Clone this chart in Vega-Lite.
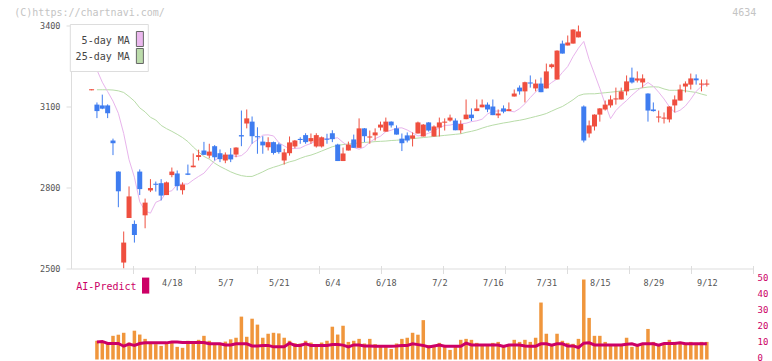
{
"$schema":"https://vega.github.io/schema/vega-lite/v6.json",
"autosize":{"type":"pad"},
"padding":{"left":14,"top":7.5,"right":0,"bottom":0},
"background":"white",
"spacing":11,
"bounds":"flush",
"config":{"view":{"stroke":null},"axis":{"labelFont":"DejaVu Sans Mono","labelFontSize":8.5,"labelColor":"#555","domainColor":"#dddddd","tickColor":"#dddddd","grid":false}},
"datasets":{
"candles":[
{"i":0,"o":3160,"h":3164,"l":3160,"c":3164},{"i":1,"o":3107,"h":3115,"l":3057,"c":3083},{"i":2,"o":3104,"h":3144,"l":3090,"c":3092},{"i":3,"o":3104,"h":3108,"l":3057,"c":3075},{"i":4,"o":2974,"h":2981,"l":2920,"c":2964},{"i":5,"o":2859,"h":2860,"l":2727,"c":2786},{"i":6,"o":2522,"h":2637,"l":2501,"c":2596},{"i":7,"o":2687,"h":2804,"l":2687,"c":2767},{"i":8,"o":2665,"h":2678,"l":2596,"c":2624},{"i":9,"o":2859,"h":2867,"l":2772,"c":2794},
{"i":10,"o":2697,"h":2759,"l":2649,"c":2744},{"i":11,"o":2789,"h":2831,"l":2783,"c":2798},{"i":12,"o":2814,"h":2822,"l":2785,"c":2810},{"i":13,"o":2816,"h":2831,"l":2752,"c":2770},{"i":14,"o":2772,"h":2822,"l":2772,"c":2819},{"i":15,"o":2846,"h":2874,"l":2838,"c":2859},{"i":16,"o":2852,"h":2863,"l":2789,"c":2805},{"i":17,"o":2790,"h":2819,"l":2774,"c":2811},{"i":18,"o":2852,"h":2885,"l":2846,"c":2847},{"i":19,"o":2875,"h":2926,"l":2875,"c":2881},
{"i":20,"o":2913,"h":2940,"l":2900,"c":2920},{"i":21,"o":2937,"h":2969,"l":2920,"c":2921},{"i":22,"o":2918,"h":2962,"l":2908,"c":2933},{"i":23,"o":2953,"h":2957,"l":2900,"c":2912},{"i":24,"o":2927,"h":2941,"l":2894,"c":2905},{"i":25,"o":2900,"h":2930,"l":2890,"c":2922},{"i":26,"o":2922,"h":2946,"l":2894,"c":2904},{"i":27,"o":2922,"h":2949,"l":2912,"c":2948},{"i":28,"o":2994,"h":3085,"l":2953,"c":2989},{"i":29,"o":3037,"h":3089,"l":3019,"c":3056},
{"i":30,"o":3044,"h":3063,"l":2962,"c":2990},{"i":31,"o":2990,"h":3023,"l":2925,"c":2986},{"i":32,"o":2970,"h":2990,"l":2925,"c":2956},{"i":33,"o":2949,"h":2986,"l":2937,"c":2968},{"i":34,"o":2968,"h":2970,"l":2922,"c":2928},{"i":35,"o":2960,"h":2966,"l":2925,"c":2931},{"i":36,"o":2900,"h":2943,"l":2885,"c":2930},{"i":37,"o":2927,"h":2989,"l":2918,"c":2967},{"i":38,"o":2952,"h":2976,"l":2945,"c":2974},{"i":39,"o":2980,"h":2986,"l":2962,"c":2976},
{"i":40,"o":2994,"h":3001,"l":2962,"c":2968},{"i":41,"o":2971,"h":3000,"l":2962,"c":2983},{"i":42,"o":2952,"h":3001,"l":2948,"c":2994},{"i":43,"o":2952,"h":2989,"l":2948,"c":2986},{"i":44,"o":2981,"h":2999,"l":2962,"c":2977},{"i":45,"o":3001,"h":3012,"l":2968,"c":2979},{"i":46,"o":2959,"h":2962,"l":2898,"c":2898},{"i":47,"o":2898,"h":2948,"l":2898,"c":2926},{"i":48,"o":2937,"h":2970,"l":2937,"c":2959},{"i":49,"o":2978,"h":2996,"l":2947,"c":2947},
{"i":50,"o":2947,"h":3056,"l":2947,"c":3019},{"i":51,"o":3019,"h":3020,"l":2968,"c":2990},{"i":52,"o":2985,"h":3011,"l":2962,"c":2989},{"i":53,"o":2993,"h":3019,"l":2974,"c":3004},{"i":54,"o":3022,"h":3044,"l":3011,"c":3033},{"i":55,"o":3007,"h":3059,"l":3007,"c":3044},{"i":56,"o":3044,"h":3045,"l":3022,"c":3030},{"i":57,"o":3019,"h":3030,"l":2996,"c":2996},{"i":58,"o":2981,"h":3000,"l":2935,"c":2964},{"i":59,"o":2993,"h":3004,"l":2967,"c":2974},
{"i":60,"o":2981,"h":3004,"l":2952,"c":2993},{"i":61,"o":3000,"h":3044,"l":3000,"c":3041},{"i":62,"o":2989,"h":3035,"l":2989,"c":3033},{"i":63,"o":3041,"h":3042,"l":3007,"c":3011},{"i":64,"o":2989,"h":3030,"l":2989,"c":3026},{"i":65,"o":3022,"h":3059,"l":2989,"c":3041},{"i":66,"o":3040,"h":3056,"l":3011,"c":3044},{"i":67,"o":3048,"h":3070,"l":3044,"c":3059},{"i":68,"o":3048,"h":3056,"l":3012,"c":3012},{"i":69,"o":3012,"h":3049,"l":3000,"c":3035},
{"i":70,"o":3053,"h":3126,"l":3053,"c":3070},{"i":71,"o":3070,"h":3093,"l":3046,"c":3057},{"i":72,"o":3083,"h":3126,"l":3083,"c":3093},{"i":73,"o":3097,"h":3126,"l":3097,"c":3107},{"i":74,"o":3107,"h":3115,"l":3079,"c":3089},{"i":75,"o":3100,"h":3126,"l":3068,"c":3068},{"i":76,"o":3067,"h":3089,"l":3057,"c":3074},{"i":77,"o":3093,"h":3104,"l":3075,"c":3081},{"i":78,"o":3083,"h":3115,"l":3083,"c":3090},{"i":79,"o":3137,"h":3163,"l":3137,"c":3148},
{"i":80,"o":3170,"h":3178,"l":3144,"c":3156},{"i":81,"o":3156,"h":3192,"l":3115,"c":3190},{"i":82,"o":3189,"h":3215,"l":3170,"c":3185},{"i":83,"o":3167,"h":3200,"l":3156,"c":3185},{"i":84,"o":3185,"h":3207,"l":3153,"c":3153},{"i":85,"o":3167,"h":3259,"l":3167,"c":3230},{"i":86,"o":3246,"h":3259,"l":3241,"c":3256},{"i":87,"o":3200,"h":3308,"l":3200,"c":3307},{"i":88,"o":3333,"h":3344,"l":3296,"c":3296},{"i":89,"o":3326,"h":3363,"l":3326,"c":3337},
{"i":90,"o":3333,"h":3386,"l":3333,"c":3385},{"i":91,"o":3356,"h":3400,"l":3356,"c":3378},{"i":92,"o":3100,"h":3104,"l":2967,"c":2974},{"i":93,"o":3000,"h":3048,"l":2985,"c":3030},{"i":94,"o":3026,"h":3071,"l":3011,"c":3070},{"i":95,"o":3070,"h":3094,"l":3044,"c":3093},{"i":96,"o":3089,"h":3122,"l":3085,"c":3107},{"i":97,"o":3104,"h":3141,"l":3096,"c":3126},{"i":98,"o":3126,"h":3170,"l":3107,"c":3130},{"i":99,"o":3126,"h":3170,"l":3126,"c":3156},
{"i":100,"o":3156,"h":3215,"l":3141,"c":3193},{"i":101,"o":3207,"h":3244,"l":3185,"c":3189},{"i":102,"o":3196,"h":3230,"l":3189,"c":3204},{"i":103,"o":3189,"h":3219,"l":3170,"c":3204},{"i":104,"o":3148,"h":3149,"l":3044,"c":3085},{"i":105,"o":3089,"h":3115,"l":3081,"c":3083},{"i":106,"o":3059,"h":3085,"l":3041,"c":3063},{"i":107,"o":3055,"h":3078,"l":3037,"c":3059},{"i":108,"o":3052,"h":3101,"l":3041,"c":3100},{"i":109,"o":3104,"h":3141,"l":3078,"c":3126},
{"i":110,"o":3122,"h":3181,"l":3122,"c":3163},{"i":111,"o":3174,"h":3193,"l":3152,"c":3185},{"i":112,"o":3181,"h":3222,"l":3163,"c":3204},{"i":113,"o":3204,"h":3219,"l":3181,"c":3197},{"i":114,"o":3181,"h":3200,"l":3156,"c":3185},{"i":115,"o":3181,"h":3200,"l":3174,"c":3185}
],
"ma":[
{"i":1,"m5":3235,"m25":3162},{"i":2,"m5":3190,"m25":3162},{"i":3,"m5":3155,"m25":3162},{"i":4,"m5":3120,"m25":3161},{"i":5,"m5":3075,"m25":3158},{"i":6,"m5":3000,"m25":3152},{"i":7,"m5":2903,"m25":3137},{"i":8,"m5":2838,"m25":3120},{"i":9,"m5":2747,"m25":3095},{"i":10,"m5":2713,"m25":3080},
{"i":11,"m5":2705,"m25":3060},{"i":12,"m5":2745,"m25":3050},{"i":13,"m5":2754,"m25":3030},{"i":14,"m5":2783,"m25":3018},{"i":15,"m5":2788,"m25":3008},{"i":16,"m5":2811,"m25":2997},{"i":17,"m5":2813,"m25":2985},{"i":18,"m5":2813,"m25":2970},{"i":19,"m5":2828,"m25":2950},{"i":20,"m5":2841,"m25":2932},
{"i":21,"m5":2853,"m25":2915},{"i":22,"m5":2876,"m25":2905},{"i":23,"m5":2900,"m25":2890},{"i":24,"m5":2913,"m25":2878},{"i":25,"m5":2918,"m25":2868},{"i":26,"m5":2919,"m25":2858},{"i":27,"m5":2915,"m25":2850},{"i":28,"m5":2918,"m25":2844},{"i":29,"m5":2934,"m25":2841},{"i":30,"m5":2964,"m25":2841},
{"i":31,"m5":2977,"m25":2849},{"i":32,"m5":2994,"m25":2858},{"i":33,"m5":2995,"m25":2868},{"i":34,"m5":2991,"m25":2875},{"i":35,"m5":2966,"m25":2881},{"i":36,"m5":2954,"m25":2888},{"i":37,"m5":2943,"m25":2895},{"i":38,"m5":2945,"m25":2900},{"i":39,"m5":2946,"m25":2908},{"i":40,"m5":2956,"m25":2915},
{"i":41,"m5":2963,"m25":2920},{"i":42,"m5":2974,"m25":2927},{"i":43,"m5":2979,"m25":2935},{"i":44,"m5":2981,"m25":2943},{"i":45,"m5":2982,"m25":2951},{"i":46,"m5":2984,"m25":2956},{"i":47,"m5":2967,"m25":2959},{"i":48,"m5":2953,"m25":2961},{"i":49,"m5":2948,"m25":2963},{"i":50,"m5":2942,"m25":2965},
{"i":51,"m5":2950,"m25":2967},{"i":52,"m5":2968,"m25":2968},{"i":53,"m5":2981,"m25":2970},{"i":54,"m5":2990,"m25":2971},{"i":55,"m5":3007,"m25":2972},{"i":56,"m5":3012,"m25":2974},{"i":57,"m5":3020,"m25":2975},{"i":58,"m5":3021,"m25":2977},{"i":59,"m5":3013,"m25":2979},{"i":60,"m5":3002,"m25":2981},
{"i":61,"m5":2991,"m25":2983},{"i":62,"m5":2994,"m25":2985},{"i":63,"m5":3001,"m25":2987},{"i":64,"m5":3010,"m25":2989},{"i":65,"m5":3021,"m25":2991},{"i":66,"m5":3030,"m25":2993},{"i":67,"m5":3031,"m25":2995},{"i":68,"m5":3036,"m25":2997},{"i":69,"m5":3036,"m25":2999},{"i":70,"m5":3038,"m25":3004},
{"i":71,"m5":3044,"m25":3008},{"i":72,"m5":3047,"m25":3013},{"i":73,"m5":3053,"m25":3020},{"i":74,"m5":3072,"m25":3026},{"i":75,"m5":3083,"m25":3031},{"i":76,"m5":3083,"m25":3035},{"i":77,"m5":3086,"m25":3039},{"i":78,"m5":3084,"m25":3042},{"i":79,"m5":3080,"m25":3046},{"i":80,"m5":3092,"m25":3049},
{"i":81,"m5":3110,"m25":3053},{"i":82,"m5":3133,"m25":3058},{"i":83,"m5":3154,"m25":3063},{"i":84,"m5":3173,"m25":3068},{"i":85,"m5":3174,"m25":3074},{"i":86,"m5":3189,"m25":3083},{"i":87,"m5":3202,"m25":3092},{"i":88,"m5":3226,"m25":3100},{"i":89,"m5":3248,"m25":3112},{"i":90,"m5":3285,"m25":3125},
{"i":91,"m5":3316,"m25":3140},{"i":92,"m5":3341,"m25":3146},{"i":93,"m5":3274,"m25":3147},{"i":94,"m5":3221,"m25":3147},{"i":95,"m5":3167,"m25":3149},{"i":96,"m5":3109,"m25":3151},{"i":97,"m5":3055,"m25":3153},{"i":98,"m5":3085,"m25":3155},{"i":99,"m5":3105,"m25":3158},{"i":100,"m5":3122,"m25":3161},
{"i":101,"m5":3142,"m25":3163},{"i":102,"m5":3159,"m25":3166},{"i":103,"m5":3174,"m25":3169},{"i":104,"m5":3189,"m25":3172},{"i":105,"m5":3175,"m25":3173},{"i":106,"m5":3153,"m25":3172},{"i":107,"m5":3128,"m25":3165},{"i":108,"m5":3099,"m25":3160},{"i":109,"m5":3078,"m25":3160},{"i":110,"m5":3086,"m25":3160},
{"i":111,"m5":3102,"m25":3158},{"i":112,"m5":3127,"m25":3155},{"i":113,"m5":3156,"m25":3152},{"i":114,"m5":3175,"m25":3146},{"i":115,"m5":3187,"m25":3141}
],
"vol":[
{"i":1,"v":11.7,"p":11.0},{"i":2,"v":11.0,"p":11.3},{"i":3,"v":9.6,"p":10.0},{"i":4,"v":14.8,"p":10.0},{"i":5,"v":15.5,"p":10.0},{"i":6,"v":16.7,"p":8.3},{"i":7,"v":10.6,"p":9.6},{"i":8,"v":18.0,"p":8.8},{"i":9,"v":15.6,"p":10.0},{"i":10,"v":12.9,"p":10.4},
{"i":11,"v":10.6,"p":10.4},{"i":12,"v":9.6,"p":10.4},{"i":13,"v":8.5,"p":10.4},{"i":14,"v":10.0,"p":10.4},{"i":15,"v":10.6,"p":11.0},{"i":16,"v":7.9,"p":11.0},{"i":17,"v":7.3,"p":10.6},{"i":18,"v":11.7,"p":10.6},{"i":19,"v":11.2,"p":10.6},{"i":20,"v":12.3,"p":10.6},
{"i":21,"v":14.8,"p":10.6},{"i":22,"v":11.7,"p":9.8},{"i":23,"v":10.0,"p":9.8},{"i":24,"v":9.6,"p":9.8},{"i":25,"v":11.2,"p":9.1},{"i":26,"v":12.6,"p":9.1},{"i":27,"v":13.6,"p":9.8},{"i":28,"v":26.8,"p":9.8},{"i":29,"v":14.2,"p":9.8},{"i":30,"v":25.5,"p":8.5},
{"i":31,"v":21.8,"p":8.5},{"i":32,"v":13.6,"p":8.8},{"i":33,"v":16.1,"p":8.8},{"i":34,"v":16.7,"p":7.9},{"i":35,"v":16.3,"p":7.9},{"i":36,"v":13.6,"p":7.9},{"i":37,"v":11.7,"p":10.2},{"i":38,"v":10.2,"p":8.8},{"i":39,"v":10.0,"p":8.8},{"i":40,"v":11.7,"p":9.8},
{"i":41,"v":10.6,"p":8.8},{"i":42,"v":9.6,"p":8.8},{"i":43,"v":10.6,"p":8.8},{"i":44,"v":11.7,"p":8.8},{"i":45,"v":20.5,"p":9.4},{"i":46,"v":15.6,"p":9.4},{"i":47,"v":21.1,"p":9.0},{"i":48,"v":11.0,"p":7.9},{"i":49,"v":11.7,"p":9.1},{"i":50,"v":12.9,"p":9.1},
{"i":51,"v":10.0,"p":8.5},{"i":52,"v":12.9,"p":8.5},{"i":53,"v":9.6,"p":8.3},{"i":54,"v":8.8,"p":8.3},{"i":55,"v":8.8,"p":8.3},{"i":56,"v":6.6,"p":8.3},{"i":57,"v":10.0,"p":8.5},{"i":58,"v":12.9,"p":8.8},{"i":59,"v":13.6,"p":8.8},{"i":60,"v":16.7,"p":9.8},
{"i":61,"v":15.5,"p":9.3},{"i":62,"v":24.6,"p":8.8},{"i":63,"v":9.1,"p":7.9},{"i":64,"v":8.5,"p":8.5},{"i":65,"v":10.4,"p":9.1},{"i":66,"v":9.1,"p":8.3},{"i":67,"v":6.0,"p":8.3},{"i":68,"v":8.5,"p":8.3},{"i":69,"v":12.3,"p":8.3},{"i":70,"v":12.9,"p":10.2},
{"i":71,"v":12.3,"p":9.1},{"i":72,"v":10.4,"p":9.1},{"i":73,"v":8.5,"p":9.1},{"i":74,"v":9.1,"p":9.1},{"i":75,"v":10.4,"p":9.1},{"i":76,"v":11.0,"p":9.1},{"i":77,"v":9.1,"p":8.1},{"i":78,"v":9.1,"p":9.1},{"i":79,"v":12.3,"p":9.1},{"i":80,"v":11.0,"p":9.1},
{"i":81,"v":12.3,"p":8.5},{"i":82,"v":11.0,"p":8.3},{"i":83,"v":13.6,"p":8.3},{"i":84,"v":35.6,"p":9.8},{"i":85,"v":16.1,"p":9.8},{"i":86,"v":9.1,"p":9.0},{"i":87,"v":16.1,"p":9.8},{"i":88,"v":11.7,"p":9.8},{"i":89,"v":10.4,"p":8.5},{"i":90,"v":9.8,"p":8.5},
{"i":91,"v":12.9,"p":7.5},{"i":92,"v":50,"p":10.2},{"i":93,"v":26.0,"p":10.4},{"i":94,"v":14.8,"p":9.1},{"i":95,"v":14.8,"p":9.1},{"i":96,"v":11.0,"p":9.1},{"i":97,"v":9.1,"p":9.1},{"i":98,"v":9.1,"p":9.1},{"i":99,"v":9.1,"p":9.1},{"i":100,"v":13.6,"p":9.5},
{"i":101,"v":7.9,"p":9.8},{"i":102,"v":8.5,"p":8.8},{"i":103,"v":9.1,"p":9.8},{"i":104,"v":19.1,"p":9.8},{"i":105,"v":11.0,"p":9.8},{"i":106,"v":9.1,"p":9.0},{"i":107,"v":9.1,"p":10.0},{"i":108,"v":12.3,"p":10.0},{"i":109,"v":11.0,"p":10.0},{"i":110,"v":11.0,"p":10.4},
{"i":111,"v":9.1,"p":9.8},{"i":112,"v":11.0,"p":9.8},{"i":113,"v":10.4,"p":9.8},{"i":114,"v":11.0,"p":9.8},{"i":115,"v":11.0,"p":9.8}
]
},
"vconcat":[
{
"width":682,"height":243,
"resolve":{"axis":{"x":"independent"}},
"layer":[
{"data":{"name":"ma"},"mark":{"type":"line","color":"#b8dca8","strokeWidth":1},
 "encoding":{
  "x":{"field":"i","type":"quantitative","scale":{"domain":[-3.85,123.63],"nice":false,"zero":false,"padding":0},
       "axis":{"orient":"bottom","values":[7.74,19.32,30.9,42.48,54.06,65.64,77.22,88.8,100.38,111.96,123.54],"labels":false,"domain":false,"ticks":true,"tickSize":8,"offset":-3,"title":null}},
  "y":{"field":"m25","type":"quantitative","title":null,"scale":{"domain":[2500,3400],"nice":false,"zero":false},
       "axis":{"values":[2500,2800,3100,3400],"format":"d","tickSize":5,"labelPadding":6,"title":null}}}},
{"data":{"name":"ma"},"mark":{"type":"line","color":"#e8b4ec","strokeWidth":1},
 "encoding":{"x":{"field":"i","type":"quantitative","axis":null},"y":{"field":"m5","type":"quantitative","title":null}}},
{"data":{"name":"candles"},"mark":{"type":"rule","strokeWidth":1},
 "encoding":{
  "x":{"field":"i","type":"quantitative",
       "axis":{"orient":"bottom","values":[15,25,35,45,55,65,75,85,95,105,115],"labelExpr":"['4/18','5/7','5/21','6/4','6/18','7/2','7/16','7/31','8/15','8/29','9/12'][round((datum.value-15)/10)]","ticks":false,"tickSize":0,"labelPadding":10,"domain":true,"title":null}},
  "y":{"field":"l","type":"quantitative","title":null},"y2":{"field":"h"},
  "color":{"condition":{"test":"datum.c >= datum.o","value":"#ef4f3f"},"value":"#3e7cf0"}}},
{"data":{"name":"candles"},"mark":{"type":"bar","size":5},
 "encoding":{
  "x":{"field":"i","type":"quantitative","axis":null},
  "y":{"field":"o","type":"quantitative","title":null},"y2":{"field":"c"},
  "color":{"condition":{"test":"datum.c >= datum.o","value":"#ef4f3f"},"value":"#3e7cf0"}}},
{"data":{"values":[{}]},"mark":{"type":"rect","fill":"white","stroke":"#dddddd","strokeWidth":1},
 "encoding":{"x":{"datum":-3.98,"type":"quantitative","axis":null},"x2":{"datum":10.6},"y":{"datum":3403.7,"type":"quantitative","title":null},"y2":{"datum":3229.6}}},
{"data":{"values":[{}]},"mark":{"type":"rect","fill":"#ebb8ee","stroke":"#666666","strokeWidth":1},
 "encoding":{"x":{"datum":8.37,"type":"quantitative","axis":null},"x2":{"datum":9.68},"y":{"datum":3377.8,"type":"quantitative","title":null},"y2":{"datum":3322.2}}},
{"data":{"values":[{}]},"mark":{"type":"rect","fill":"#bcdcab","stroke":"#666666","strokeWidth":1},
 "encoding":{"x":{"datum":8.37,"type":"quantitative","axis":null},"x2":{"datum":9.68},"y":{"datum":3314.8,"type":"quantitative","title":null},"y2":{"datum":3259.3}}},
{"data":{"values":[{}]},"mark":{"type":"text","text":"5-day MA","align":"right","baseline":"middle","font":"DejaVu Sans Mono","fontSize":10,"color":"#444444"},
 "encoding":{"x":{"datum":7.14,"type":"quantitative","axis":null},"y":{"datum":3344.4,"type":"quantitative","title":null}}},
{"data":{"values":[{}]},"mark":{"type":"text","text":"25-day MA","align":"right","baseline":"middle","font":"DejaVu Sans Mono","fontSize":10,"color":"#444444"},
 "encoding":{"x":{"datum":7.14,"type":"quantitative","axis":null},"y":{"datum":3281.5,"type":"quantitative","title":null}}},
{"data":{"values":[{}]},"mark":{"type":"text","text":"(C)https://chartnavi.com/","align":"left","baseline":"middle","font":"DejaVu Sans Mono","fontSize":10,"color":"#c4c4c4"},
 "encoding":{"x":{"datum":-14.45,"type":"quantitative","axis":null},"y":{"datum":3446.3,"type":"quantitative","title":null}}},
{"data":{"values":[{}]},"mark":{"type":"text","text":"4634","align":"right","baseline":"middle","font":"DejaVu Sans Mono","fontSize":10,"color":"#c4c4c4"},
 "encoding":{"x":{"datum":124.24,"type":"quantitative","axis":null},"y":{"datum":3446.3,"type":"quantitative","title":null}}}
]
},
{
"width":682,"height":80,
"layer":[
{"data":{"name":"vol"},"mark":{"type":"bar","size":3.5,"color":"#f0963c"},
 "encoding":{
  "x":{"field":"i","type":"quantitative","scale":{"domain":[-3.85,123.63],"nice":false,"zero":false,"padding":0},"axis":null},
  "y":{"field":"v","type":"quantitative","title":null,"scale":{"domain":[0,50],"nice":false,"zero":true},
       "axis":{"orient":"right","tickCount":5,"domain":false,"ticks":false,"labelPadding":4,"labelOffset":-2.5,"labelOverlap":false,"labelColor":"#cc0066","labelFontSize":9,"title":null}}}},
{"data":{"name":"vol"},"mark":{"type":"line","color":"#cc0066","strokeWidth":3},
 "encoding":{"x":{"field":"i","type":"quantitative","axis":null},"y":{"field":"p","type":"quantitative","title":null}}},
{"data":{"values":[{}]},"mark":{"type":"rect","fill":"#cc0066"},
 "encoding":{"x":{"datum":9.42,"type":"quantitative","axis":null},"x2":{"datum":10.78},"y":{"datum":51.2,"type":"quantitative","title":null},"y2":{"datum":41.2}}},
{"data":{"values":[{}]},"mark":{"type":"text","text":"AI-Predict","align":"left","baseline":"middle","font":"DejaVu Sans Mono","fontSize":10,"color":"#cc0066"},
 "encoding":{"x":{"datum":-2.86,"type":"quantitative","axis":null},"y":{"datum":45.6,"type":"quantitative","title":null}}}
]
}
]
}
